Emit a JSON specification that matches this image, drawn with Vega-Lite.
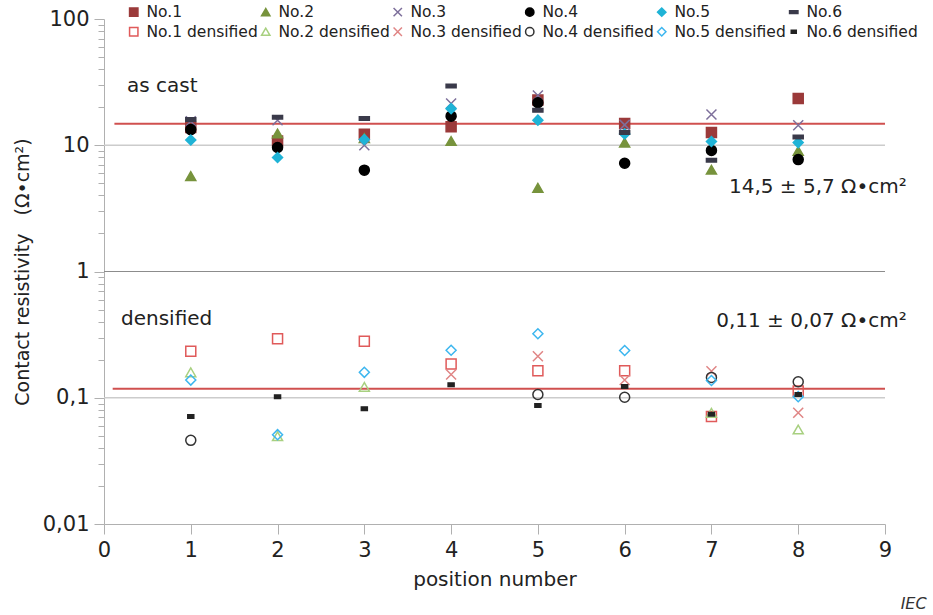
{
  "$schema": "https://vega.github.io/schema/vega-lite/v6.json",
  "width": 781,
  "height": 505,
  "autosize": {"type": "none"},
  "padding": {"left": 104, "top": 19, "right": 48, "bottom": 91},
  "background": "white",
  "config": {
    "view": {"stroke": null},
    "font": "DejaVu Sans",
    "axis": {
      "labelFont": "DejaVu Sans",
      "titleFont": "DejaVu Sans",
      "labelColor": "#222222",
      "titleColor": "#222222",
      "titleFontWeight": "normal",
      "domainColor": "#b0b0b0",
      "tickColor": "#b0b0b0",
      "grid": false
    }
  },
  "datasets": {
    "points": [
      {"pos": 1, "value": 13.8, "series": "No.1"},
      {"pos": 1, "value": 5.7, "series": "No.2"},
      {"pos": 1, "value": 15.5, "series": "No.3"},
      {"pos": 1, "value": 13.3, "series": "No.4"},
      {"pos": 1, "value": 11.0, "series": "No.5"},
      {"pos": 1, "value": 16.0, "series": "No.6"},
      {"pos": 2, "value": 10.8, "series": "No.1"},
      {"pos": 2, "value": 12.4, "series": "No.2"},
      {"pos": 2, "value": 15.8, "series": "No.3"},
      {"pos": 2, "value": 9.6, "series": "No.4"},
      {"pos": 2, "value": 8.0, "series": "No.5"},
      {"pos": 2, "value": 16.7, "series": "No.6"},
      {"pos": 3, "value": 12.2, "series": "No.1"},
      {"pos": 3, "value": 11.4, "series": "No.2"},
      {"pos": 3, "value": 10.0, "series": "No.3"},
      {"pos": 3, "value": 6.35, "series": "No.4"},
      {"pos": 3, "value": 11.1, "series": "No.5"},
      {"pos": 3, "value": 16.3, "series": "No.6"},
      {"pos": 4, "value": 14.0, "series": "No.1"},
      {"pos": 4, "value": 10.8, "series": "No.2"},
      {"pos": 4, "value": 21.4, "series": "No.3"},
      {"pos": 4, "value": 17.0, "series": "No.4"},
      {"pos": 4, "value": 19.5, "series": "No.5"},
      {"pos": 4, "value": 29.4, "series": "No.6"},
      {"pos": 5, "value": 22.8, "series": "No.1"},
      {"pos": 5, "value": 4.6, "series": "No.2"},
      {"pos": 5, "value": 24.8, "series": "No.3"},
      {"pos": 5, "value": 21.7, "series": "No.4"},
      {"pos": 5, "value": 15.8, "series": "No.5"},
      {"pos": 5, "value": 18.9, "series": "No.6"},
      {"pos": 6, "value": 14.9, "series": "No.1"},
      {"pos": 6, "value": 10.5, "series": "No.2"},
      {"pos": 6, "value": 14.5, "series": "No.3"},
      {"pos": 6, "value": 7.2, "series": "No.4"},
      {"pos": 6, "value": 12.3, "series": "No.5"},
      {"pos": 6, "value": 12.6, "series": "No.6"},
      {"pos": 7, "value": 12.6, "series": "No.1"},
      {"pos": 7, "value": 6.4, "series": "No.2"},
      {"pos": 7, "value": 17.5, "series": "No.3"},
      {"pos": 7, "value": 9.1, "series": "No.4"},
      {"pos": 7, "value": 10.7, "series": "No.5"},
      {"pos": 7, "value": 7.6, "series": "No.6"},
      {"pos": 8, "value": 23.5, "series": "No.1"},
      {"pos": 8, "value": 9.0, "series": "No.2"},
      {"pos": 8, "value": 14.4, "series": "No.3"},
      {"pos": 8, "value": 7.7, "series": "No.4"},
      {"pos": 8, "value": 10.5, "series": "No.5"},
      {"pos": 8, "value": 11.6, "series": "No.6"},
      {"pos": 1, "value": 0.234, "series": "No.1 densified"},
      {"pos": 1, "value": 0.159, "series": "No.2 densified"},
      {"pos": 1, "value": 0.046, "series": "No.4 densified"},
      {"pos": 1, "value": 0.138, "series": "No.5 densified"},
      {"pos": 1, "value": 0.071, "series": "No.6 densified"},
      {"pos": 2, "value": 0.293, "series": "No.1 densified"},
      {"pos": 2, "value": 0.0496, "series": "No.2 densified"},
      {"pos": 2, "value": 0.051, "series": "No.5 densified"},
      {"pos": 2, "value": 0.102, "series": "No.6 densified"},
      {"pos": 3, "value": 0.28, "series": "No.1 densified"},
      {"pos": 3, "value": 0.122, "series": "No.2 densified"},
      {"pos": 3, "value": 0.159, "series": "No.5 densified"},
      {"pos": 3, "value": 0.082, "series": "No.6 densified"},
      {"pos": 4, "value": 0.185, "series": "No.1 densified"},
      {"pos": 4, "value": 0.153, "series": "No.3 densified"},
      {"pos": 4, "value": 0.238, "series": "No.5 densified"},
      {"pos": 4, "value": 0.127, "series": "No.6 densified"},
      {"pos": 5, "value": 0.164, "series": "No.1 densified"},
      {"pos": 5, "value": 0.213, "series": "No.3 densified"},
      {"pos": 5, "value": 0.106, "series": "No.4 densified"},
      {"pos": 5, "value": 0.321, "series": "No.5 densified"},
      {"pos": 5, "value": 0.087, "series": "No.6 densified"},
      {"pos": 6, "value": 0.164, "series": "No.1 densified"},
      {"pos": 6, "value": 0.138, "series": "No.3 densified"},
      {"pos": 6, "value": 0.101, "series": "No.4 densified"},
      {"pos": 6, "value": 0.237, "series": "No.5 densified"},
      {"pos": 6, "value": 0.123, "series": "No.6 densified"},
      {"pos": 7, "value": 0.071, "series": "No.1 densified"},
      {"pos": 7, "value": 0.076, "series": "No.2 densified"},
      {"pos": 7, "value": 0.162, "series": "No.3 densified"},
      {"pos": 7, "value": 0.145, "series": "No.4 densified"},
      {"pos": 7, "value": 0.137, "series": "No.5 densified"},
      {"pos": 7, "value": 0.074, "series": "No.6 densified"},
      {"pos": 8, "value": 0.113, "series": "No.1 densified"},
      {"pos": 8, "value": 0.056, "series": "No.2 densified"},
      {"pos": 8, "value": 0.076, "series": "No.3 densified"},
      {"pos": 8, "value": 0.134, "series": "No.4 densified"},
      {"pos": 8, "value": 0.102, "series": "No.5 densified"},
      {"pos": 8, "value": 0.106, "series": "No.6 densified"}
    ]
  },
  "layer": [
    {
      "data": {"values": [{"level": 10}, {"level": 0.1}]},
      "mark": {"type": "rule", "color": "#cccccc", "strokeWidth": 1.5},
      "encoding": {
        "y": {"field": "level", "type": "quantitative", "scale": {"type": "log", "domain": [0.01, 100]}, "title": "Contact resistivity\u00a0\u00a0\u00a0(Ω•cm²)"}
      }
    },
    {
      "data": {"values": [{"level": 1}]},
      "mark": {"type": "rule", "color": "#8c8c8c", "strokeWidth": 1.2},
      "encoding": {
        "y": {"field": "level", "type": "quantitative", "title": "Contact resistivity\u00a0\u00a0\u00a0(Ω•cm²)"}
      }
    },
    {
      "data": {"values": [{"from": 0.12, "to": 9, "mean": 14.8}, {"from": 0.1, "to": 9, "mean": 0.118}]},
      "mark": {"type": "rule", "color": "#d0504f", "strokeWidth": 2},
      "encoding": {
        "x": {"field": "from", "type": "quantitative", "title": "position number"},
        "x2": {"field": "to"},
        "y": {"field": "mean", "type": "quantitative", "title": "Contact resistivity\u00a0\u00a0\u00a0(Ω•cm²)"}
      }
    },
    {
      "data": {"name": "points"},
      "mark": {"type": "point", "size": 100, "strokeWidth": 1.5, "opacity": 1},
      "encoding": {
        "x": {
          "field": "pos", "type": "quantitative",
          "scale": {"domain": [0, 9], "nice": false, "zero": false},
          "title": "position number",
          "axis": {
            "values": [0, 1, 2, 3, 4, 5, 6, 7, 8, 9],
            "format": "d",
            "labelFontSize": 21,
            "titleFontSize": 20,
            "tickSize": 10,
            "labelPadding": 5,
            "titlePadding": 9,
            "labelFlush": false,
            "labelOverlap": false
          }
        },
        "y": {
          "field": "value", "type": "quantitative",
          "scale": {"type": "log", "domain": [0.01, 100]},
          "title": "Contact resistivity\u00a0\u00a0\u00a0(Ω•cm²)",
          "axis": {
            "values": [0.01, 0.02, 0.03, 0.04, 0.05, 0.06, 0.07, 0.08, 0.09, 0.1, 0.2, 0.3, 0.4, 0.5, 0.6, 0.7, 0.8, 0.9, 1, 2, 3, 4, 5, 6, 7, 8, 9, 10, 20, 30, 40, 50, 60, 70, 80, 90, 100],
            "labelExpr": "abs(log(datum.value)/LN10 - round(log(datum.value)/LN10)) < 0.001 ? replace(format(datum.value, '~g'), '.', ',') : ''",
            "tickSize": {"condition": {"test": "abs(log(datum.value)/LN10 - round(log(datum.value)/LN10)) < 0.001", "value": 10}, "value": 6},
            "labelFontSize": 21,
            "titleFontSize": 19,
            "labelPadding": 5,
            "titlePadding": 10,
            "labelOverlap": false,
            "labelFlush": false
          }
        },
        "shape": {
          "field": "series", "type": "nominal",
          "scale": {
            "domain": ["No.1", "No.2", "No.3", "No.4", "No.5", "No.6", "No.1 densified", "No.2 densified", "No.3 densified", "No.4 densified", "No.5 densified", "No.6 densified"],
            "range": ["square", "triangle-up", "M-1,-1L1,1M-1,1L1,-1", "circle", "diamond", "M-1,-0.35H1V0.35H-1Z", "square", "triangle-up", "M-1,-1L1,1M-1,1L1,-1", "circle", "diamond", "M-0.6,-0.35H0.6V0.35H-0.6Z"]
          },
          "legend": {"title": null, "orient": "none", "direction": "horizontal", "legendX": 22, "legendY": -15, "columns": 6, "columnPadding": 0, "rowPadding": 3, "labelFontSize": 15.5, "labelFont": "DejaVu Sans", "labelColor": "#222222", "symbolSize": 70, "labelOffset": 5, "labelLimit": 220}
        },
        "fill": {
          "field": "series", "type": "nominal",
          "scale": {
            "domain": ["No.1", "No.2", "No.3", "No.4", "No.5", "No.6", "No.1 densified", "No.2 densified", "No.3 densified", "No.4 densified", "No.5 densified", "No.6 densified"],
            "range": ["#9b3a3a", "#77933c", "#7d6f9b", "#000000", "#1fb3d6", "#3a3a4a", "transparent", "transparent", "transparent", "transparent", "transparent", "#222222"]
          },
          "legend": {"title": null, "orient": "none", "direction": "horizontal", "legendX": 22, "legendY": -15, "columns": 6, "columnPadding": 0, "rowPadding": 3, "labelFontSize": 15.5, "labelFont": "DejaVu Sans", "labelColor": "#222222", "symbolSize": 70, "labelOffset": 5, "labelLimit": 220}
        },
        "stroke": {
          "field": "series", "type": "nominal",
          "scale": {
            "domain": ["No.1", "No.2", "No.3", "No.4", "No.5", "No.6", "No.1 densified", "No.2 densified", "No.3 densified", "No.4 densified", "No.5 densified", "No.6 densified"],
            "range": ["#9b3a3a", "#77933c", "#7d6f9b", "#000000", "#1fb3d6", "#3a3a4a", "#e05a5a", "#a8d080", "#e08585", "#333333", "#3cb6ef", "#222222"]
          },
          "legend": {"title": null, "orient": "none", "direction": "horizontal", "legendX": 22, "legendY": -15, "columns": 6, "columnPadding": 0, "rowPadding": 3, "labelFontSize": 15.5, "labelFont": "DejaVu Sans", "labelColor": "#222222", "symbolSize": 70, "labelOffset": 5, "labelLimit": 220}
        }
      }
    },
    {
      "data": {"values": [{"px": 0.265, "py": 29.2, "label": "as cast"}, {"px": 0.196, "py": 0.417, "label": "densified"}]},
      "mark": {"type": "text", "align": "left", "baseline": "middle", "fontSize": 20, "color": "#222222", "font": "DejaVu Sans"},
      "encoding": {
        "x": {"field": "px", "type": "quantitative", "title": "position number"},
        "y": {"field": "py", "type": "quantitative", "title": "Contact resistivity\u00a0\u00a0\u00a0(Ω•cm²)"},
        "text": {"field": "label"}
      }
    },
    {
      "data": {"values": [{"px": 9.25, "py": 4.63, "label": "14,5 ± 5,7 Ω•cm²"}, {"px": 9.25, "py": 0.402, "label": "0,11 ± 0,07 Ω•cm²"}]},
      "mark": {"type": "text", "align": "right", "baseline": "middle", "fontSize": 20, "color": "#222222", "font": "DejaVu Sans"},
      "encoding": {
        "x": {"field": "px", "type": "quantitative", "title": "position number"},
        "y": {"field": "py", "type": "quantitative", "title": "Contact resistivity\u00a0\u00a0\u00a0(Ω•cm²)"},
        "text": {"field": "label"}
      }
    },
    {
      "data": {"values": [{"px": 9.48, "py": 0.00234, "label": "IEC"}]},
      "mark": {"type": "text", "align": "right", "baseline": "middle", "fontSize": 16, "fontStyle": "italic", "color": "#333333", "font": "DejaVu Sans"},
      "encoding": {
        "x": {"field": "px", "type": "quantitative", "title": "position number"},
        "y": {"field": "py", "type": "quantitative", "title": "Contact resistivity\u00a0\u00a0\u00a0(Ω•cm²)"},
        "text": {"field": "label"}
      }
    }
  ]
}
